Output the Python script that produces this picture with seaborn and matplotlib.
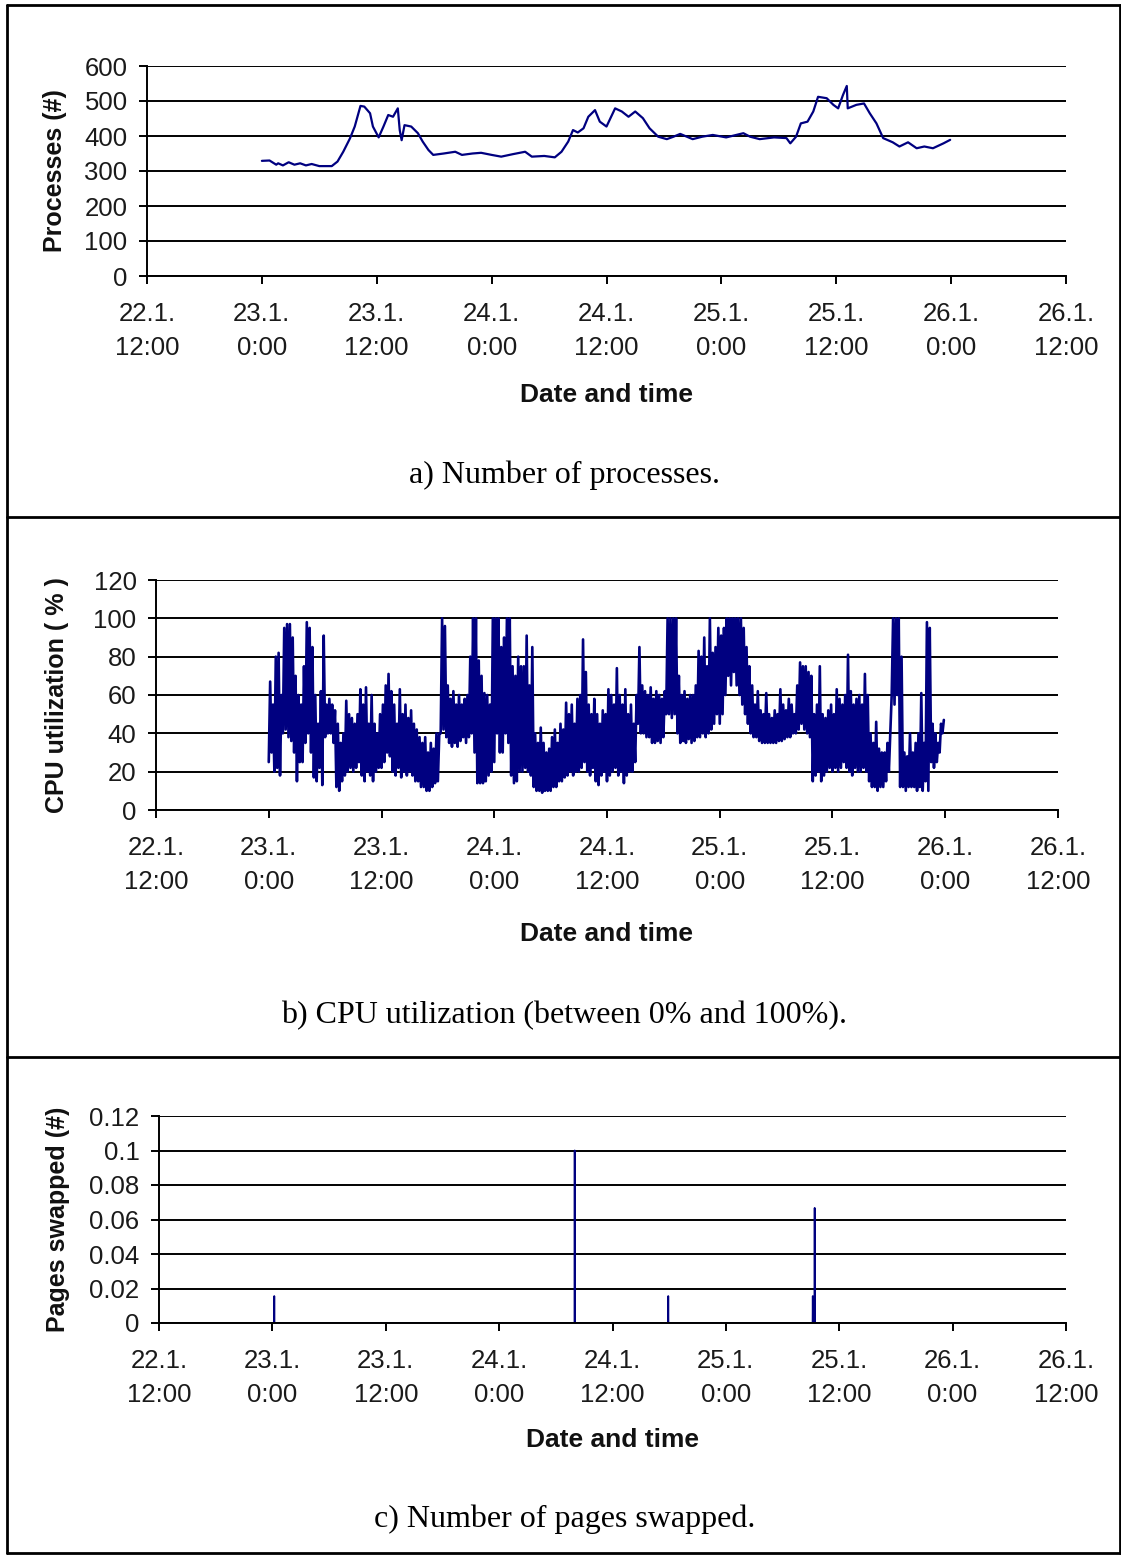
import numpy as np
import pandas as pd
import matplotlib
matplotlib.use("Agg")
import matplotlib.pyplot as plt
from matplotlib.lines import Line2D
from matplotlib.ticker import FuncFormatter
import seaborn as sns

# ---------------- data ----------------
# x axis: hours relative to 23.1. 0:00 (axis spans 22.1. 12:00 .. 26.1. 12:00)
tick_hours = [-12, 0, 12, 24, 36, 48, 60, 72, 84]
tick_labels = ["22.1.\n12:00", "23.1.\n0:00", "23.1.\n12:00", "24.1.\n0:00",
               "24.1.\n12:00", "25.1.\n0:00", "25.1.\n12:00", "26.1.\n0:00",
               "26.1.\n12:00"]

proc_hours = [0, 0.8, 1.5, 1.7, 2.2, 2.8, 3.4, 4.0, 4.6, 5.2, 6.0, 7.3, 7.9, 8.5,
              9.2, 9.7, 10.3, 10.7, 11.3, 11.6, 12.2, 12.7, 13.2, 13.7, 14.2, 14.4,
              14.6, 14.9, 15.6, 16.3, 16.8, 17.4, 17.9, 19.0, 20.2, 20.9, 22.0, 22.9,
              24.0, 25.0, 26.2, 27.5, 28.2, 29.5, 30.6, 31.3, 32.0, 32.5, 33.0, 33.6,
              34.1, 34.8, 35.3, 36.0, 36.9, 37.6, 38.3, 39.0, 39.8, 40.5, 41.4, 42.3,
              43.0, 43.7, 45.0, 46.0, 47.1, 48.5, 50.3, 51.0, 52.0, 53.5, 54.8, 55.2,
              55.8, 56.3, 57.0, 57.6, 58.1, 59.0, 59.7, 60.2, 60.7, 61.1, 61.2, 62.1,
              62.9, 63.5, 64.2, 64.9, 65.9, 66.6, 67.5, 68.4, 69.2, 70.1, 71.2, 71.9]
proc_values = [329, 330, 318, 322, 316, 325, 318, 322, 316, 320, 314, 314, 327, 355,
               393, 427, 486, 484, 465, 427, 396, 427, 460, 455, 479, 417, 388, 431,
               427, 408, 384, 360, 346, 350, 355, 346, 350, 352, 346, 341, 348, 355,
               341, 343, 339, 355, 384, 417, 410, 422, 455, 474, 441, 427, 479, 470,
               455, 470, 451, 422, 398, 391, 398, 406, 391, 398, 403, 396, 408, 398,
               391, 396, 394, 379, 398, 436, 441, 470, 512, 508, 489, 479, 517, 543,
               479, 489, 493, 465, 436, 394, 382, 370, 382, 365, 370, 365, 379, 389]

# CPU utilization: per 0.3 h bin, lowest and highest sample (from 23.1. 0:00)
cpu_bin = 0.3
cpu_low = [
    25, 30, 20, 22, 18, 40, 42, 38, 36, 30,
    15, 25, 25, 35, 40, 30, 17, 15, 22, 13,
    38, 40, 40, 35, 12, 10, 15, 18, 20, 22,
    20, 22, 25, 18, 15, 20, 18, 15, 20, 22,
    22, 25, 30, 28, 20, 18, 22, 17, 20, 18,
    20, 18, 15, 15, 12, 12, 10, 10, 12, 14,
    15, 40, 42, 38, 35, 33, 35, 33, 36, 38,
    35, 38, 40, 30, 14, 14, 14, 15, 18, 20,
    25, 40, 30, 30, 40, 35, 18, 14, 15, 20,
    20, 22, 20, 18, 12, 10, 10, 9, 10, 10,
    10, 12, 12, 15, 15, 17, 18, 20, 18, 20,
    20, 22, 25, 20, 18, 22, 15, 13, 18, 20,
    15, 18, 20, 22, 18, 20, 14, 18, 20, 20,
    25, 45, 40, 40, 38, 38, 35, 35, 36, 35,
    38, 50, 50, 48, 50, 40, 35, 36, 35, 37,
    35, 36, 38, 38, 40, 38, 40, 42, 45, 50,
    45, 50, 60, 70, 65, 72, 65, 60, 55, 50,
    45, 40, 38, 38, 36, 35, 35, 35, 35, 35,
    35, 36, 36, 37, 38, 38, 40, 40, 42, 45,
    42, 40, 38, 15, 18, 20, 15, 18, 20, 22,
    20, 22, 20, 22, 25, 22, 20, 18, 22, 20,
    20, 22, 20, 15, 12, 12, 10, 12, 12, 15,
    20, 60, 55, 60, 12, 12, 10, 12, 12, 12,
    10, 12, 10, 15, 10, 25, 22, 25, 30, 40,
]
cpu_high = [
    67, 55, 80, 82, 60, 95, 97, 97, 90, 70,
    60, 55, 75, 98, 95, 85, 60, 45, 62, 91,
    55, 58, 55, 52, 45, 35, 40, 57, 50, 48,
    45, 50, 63, 55, 64, 45, 60, 45, 40, 50,
    55, 65, 71, 62, 55, 45, 63, 50, 55, 48,
    52, 45, 42, 38, 35, 38, 30, 35, 32, 40,
    40, 100, 96, 65, 58, 62, 55, 60, 55, 58,
    60, 80, 100, 100, 78, 70, 61, 60, 55, 100,
    100, 100, 85, 90, 100, 100, 75, 70, 80, 75,
    75, 91, 65, 85, 40, 35, 43, 35, 30, 32,
    38, 42, 35, 45, 42, 56, 50, 55, 45, 58,
    60, 89, 72, 55, 50, 58, 50, 45, 52, 50,
    63, 60, 55, 74, 60, 55, 63, 50, 55, 45,
    60, 85, 65, 62, 60, 64, 58, 62, 60, 58,
    62, 100, 100, 100, 100, 70, 60, 62, 58, 60,
    60, 65, 83, 80, 90, 75, 100, 82, 85, 95,
    91, 95, 100, 100, 100, 100, 100, 100, 95, 85,
    75, 65, 55, 62, 52, 50, 61, 50, 48, 52,
    50, 63, 55, 52, 58, 55, 50, 65, 77, 75,
    75, 72, 70, 50, 55, 75, 50, 48, 52, 55,
    50, 63, 58, 55, 60, 81, 62, 55, 58, 60,
    55, 71, 60, 40, 35, 46, 32, 30, 30, 35,
    40, 100, 100, 100, 80, 30, 28, 40, 30, 35,
    40, 61, 35, 98, 95, 45, 40, 35, 45, 47,
]

swap_event_hours = [0.2, 32.0, 41.9, 57.2, 57.4]
swap_event_values = [0.0156, 0.1, 0.0156, 0.0156, 0.0667]
swap_start, swap_end = 0.0, 72.0

# ---------------- build frames ----------------
df_proc = pd.DataFrame({"hour": proc_hours, "value": proc_values})

cpu_t, cpu_v = [], []
for k, (lo, hi) in enumerate(zip(cpu_low, cpu_high)):
    cpu_t += [k * cpu_bin, k * cpu_bin + cpu_bin / 2]
    cpu_v += [lo, hi]
df_cpu = pd.DataFrame({"hour": cpu_t, "value": cpu_v})

sw_h, sw_v = [swap_start], [0.0]
for t, v in zip(swap_event_hours, swap_event_values):
    sw_h += [t - 0.02, t, t + 0.02]
    sw_v += [0.0, v, 0.0]
sw_h.append(swap_end)
sw_v.append(0.0)
df_swap = pd.DataFrame({"hour": sw_h, "value": sw_v})

# ---------------- styling ----------------
sns.set_style("white")
plt.rcParams["font.family"] = ["Liberation Sans", "DejaVu Sans"]

W, H = 1121, 1555
fig = plt.figure(figsize=(W / 100, H / 100), dpi=100)
NAVY = "#000080"


def px_axes(left, right, top, bottom):
    return [left / W, 1 - bottom / H, (right - left) / W, (bottom - top) / H]


panels = [
    dict(df=df_proc, rect=px_axes(147, 1066, 66, 276), ylim=(0, 600),
         yticks=np.arange(0, 601, 100), ylabel="Processes (#)",
         ylab_x=-0.100, xlab_y=-0.567, lw=1.6),
    dict(df=df_cpu, rect=px_axes(156, 1058, 580, 810), ylim=(0, 120),
         yticks=np.arange(0, 121, 20), ylabel="CPU utilization ( % )",
         ylab_x=-0.110, xlab_y=-0.539, lw=1.9),
    dict(df=df_swap, rect=px_axes(159, 1066, 1116, 1323), ylim=(0, 0.12),
         yticks=[0, 0.02, 0.04, 0.06, 0.08, 0.1, 0.12], ylabel="Pages swapped (#)",
         ylab_x=-0.111, xlab_y=-0.565, lw=1.3),
]

for p in panels:
    ax = fig.add_axes(p["rect"])
    sns.lineplot(data=p["df"], x="hour", y="value", ax=ax, color=NAVY,
                 lw=p["lw"], estimator=None, sort=False, legend=False, zorder=2)
    ax.set_xlim(-12, 84)
    ax.set_ylim(*p["ylim"])
    ax.set_xticks(tick_hours)
    ax.set_xticklabels(tick_labels, linespacing=1.5)
    ax.set_yticks(p["yticks"])
    ax.yaxis.set_major_formatter(FuncFormatter(lambda v, pos: "%g" % round(v, 4)))
    ax.set_axisbelow(True)
    ax.yaxis.grid(True, color="black", lw=1.4)
    ax.xaxis.grid(False)
    for s in ["top", "right"]:
        ax.spines[s].set_visible(False)
    for s in ["left", "bottom"]:
        ax.spines[s].set_color("black")
        ax.spines[s].set_linewidth(1.4)
        ax.spines[s].set_zorder(3)
    ax.tick_params(axis="both", direction="out", length=6, width=1.4,
                   color="black", labelsize=18.5, labelcolor="#1a1a1a")
    ax.tick_params(axis="y", pad=8, left=True)
    ax.tick_params(axis="x", pad=13, bottom=True)
    ax.set_xlabel("Date and time", fontsize=19, fontweight="bold", color="#111111")
    ax.set_ylabel(p["ylabel"], fontsize=18, fontweight="bold", color="#111111")
    ax.xaxis.set_label_coords(0.5, p["xlab_y"])
    ax.xaxis.label.set_verticalalignment("center")
    ax.yaxis.set_label_coords(p["ylab_x"], 0.5)
    ax.yaxis.label.set_verticalalignment("center")

captions = [("a) Number of processes.", 475),
            ("b) CPU utilization (between 0% and 100%).", 1016),
            ("c) Number of pages swapped.", 1519)]
for txt, y in captions:
    fig.text(564.5 / W, 1 - y / H, txt, ha="center", va="center",
             fontsize=23, family=["Liberation Serif", "DejaVu Serif"], color="black")

# frame lines around the three sub-figures
lw_box = 2.0
xl, xr = 7 / W, 1119.5 / W
for yy in [5, 517, 1057, 1553]:
    fig.add_artist(Line2D([xl, xr], [1 - yy / H, 1 - yy / H], color="black",
                          lw=lw_box, transform=fig.transFigure))
for xx in [7, 1119.5]:
    fig.add_artist(Line2D([xx / W, xx / W], [1 - 5 / H, 1 - 1553 / H], color="black",
                          lw=lw_box, transform=fig.transFigure))

fig.savefig("out.png", dpi=100)
